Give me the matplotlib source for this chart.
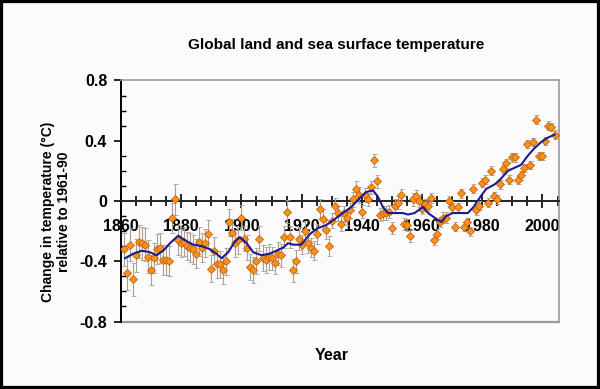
import matplotlib
matplotlib.use("Agg")
import matplotlib.pyplot as plt
from matplotlib.patches import Rectangle
from matplotlib.ticker import MultipleLocator, FixedLocator

plt.rcParams['font.family'] = ['Liberation Sans', 'DejaVu Sans']

years = list(range(1861, 2005))
anomaly = [
    -0.32, -0.48, -0.29, -0.52, -0.36, -0.27, -0.28, -0.29, -0.37,          # 1861-1869
    -0.46, -0.38, -0.32, -0.31, -0.39, -0.39, -0.40, -0.11, 0.01, -0.26,    # 1870s
    -0.28, -0.27, -0.30, -0.31, -0.32, -0.35, -0.27, -0.31, -0.28, -0.22,   # 1880s
    -0.45, -0.33, -0.42, -0.42, -0.46, -0.40, -0.14, -0.21, -0.28, -0.26,   # 1890s
    -0.11, -0.25, -0.31, -0.44, -0.46, -0.40, -0.25, -0.38, -0.39, -0.37,   # 1900s
    -0.38, -0.41, -0.35, -0.36, -0.24, -0.07, -0.24, -0.46, -0.40, -0.25,   # 1910s
    -0.29, -0.20, -0.28, -0.31, -0.33, -0.22, -0.05, -0.12, -0.19, -0.30,   # 1920s
    -0.13, -0.03, -0.08, -0.15, -0.08, -0.11, -0.06, 0.01, 0.08, 0.04,      # 1930s
    -0.07, 0.04, 0.01, 0.09, 0.27, 0.13, -0.09, -0.08, -0.08, -0.07,        # 1940s
    -0.18, -0.03, -0.01, 0.04, -0.15, -0.16, -0.23, 0.01, 0.03, 0.00,       # 1950s
    -0.05, -0.02, -0.03, 0.02, -0.26, -0.22, -0.14, -0.11, -0.11, 0.00,     # 1960s
    -0.04, -0.17, -0.04, 0.05, -0.17, -0.14, -0.20, 0.08, -0.06, -0.03,     # 1970s
    0.12, 0.14, -0.01, 0.20, 0.03, 0.01, 0.11, 0.21, 0.25, 0.14,            # 1980s
    0.29, 0.29, 0.14, 0.17, 0.22, 0.38, 0.24, 0.39, 0.54, 0.30,             # 1990s
    0.30, 0.40, 0.50, 0.49, 0.44,                                           # 2000-2004
]
uncertainty = [
    0.11, 0.11, 0.11, 0.11, 0.11, 0.11, 0.11, 0.11, 0.11,
    0.10, 0.10, 0.10, 0.10, 0.10, 0.10, 0.10, 0.10, 0.10, 0.10,
    0.095, 0.095, 0.095, 0.095, 0.095, 0.095, 0.095, 0.095, 0.095, 0.095,
    0.09, 0.09, 0.09, 0.09, 0.09, 0.09, 0.09, 0.09, 0.09, 0.09,
    0.085, 0.085, 0.085, 0.085, 0.085, 0.085, 0.085, 0.085, 0.085, 0.085,
    0.075, 0.075, 0.075, 0.075, 0.075, 0.075, 0.075, 0.075, 0.075, 0.075,
    0.065, 0.065, 0.065, 0.065, 0.065, 0.065, 0.065, 0.065, 0.065, 0.065,
    0.05, 0.05, 0.05, 0.05, 0.05, 0.05, 0.05, 0.05, 0.05, 0.05,
    0.045, 0.045, 0.045, 0.045, 0.045, 0.045, 0.045, 0.045, 0.045, 0.045,
    0.04, 0.04, 0.04, 0.04, 0.04, 0.04, 0.04, 0.04, 0.04, 0.04,
    0.035, 0.035, 0.035, 0.035, 0.035, 0.035, 0.035, 0.035, 0.035, 0.035,
    0.03, 0.03, 0.03, 0.03, 0.03, 0.03, 0.03, 0.03, 0.03, 0.03,
    0.03, 0.03, 0.03, 0.03, 0.03, 0.03, 0.03, 0.03, 0.03, 0.03,
    0.028, 0.028, 0.028, 0.028, 0.028, 0.028, 0.028, 0.028, 0.028, 0.028,
    0.028, 0.028, 0.028, 0.028, 0.028,
]

smooth_years = [
    1861.3, 1864.0, 1866.9, 1869.6, 1871.8, 1874.0, 1876.3, 1879.0, 1881.2, 1884.0,
    1886.8, 1889.5, 1891.7, 1893.4, 1895.6, 1897.8, 1899.5, 1901.7, 1903.9, 1906.7,
    1909.4, 1911.6, 1913.8, 1915.5, 1917.2, 1919.9, 1922.7, 1925.4, 1928.2, 1931.0,
    1933.7, 1936.5, 1939.3, 1941.5, 1943.7, 1945.3, 1947.0, 1948.7, 1950.9, 1953.6,
    1955.3, 1957.5, 1960.3, 1962.0, 1964.1, 1966.4, 1968.0, 1970.2, 1973.0, 1975.2,
    1977.1, 1979.1, 1981.3, 1984.1, 1986.3, 1988.5, 1990.7, 1992.9, 1995.1, 1997.3,
    1999.5, 2001.7, 2004.0,
]
smooth_values = [
    -0.38, -0.35, -0.33, -0.34, -0.36, -0.33, -0.28, -0.23, -0.26, -0.29,
    -0.30, -0.32, -0.35, -0.38, -0.34, -0.27, -0.24, -0.28, -0.34, -0.36,
    -0.35, -0.33, -0.31, -0.28, -0.29, -0.29, -0.22, -0.18, -0.16, -0.12,
    -0.08, -0.04, 0.02, 0.06, 0.07, 0.03, -0.04, -0.08, -0.08, -0.08,
    -0.09, -0.08, -0.04, -0.08, -0.11, -0.14, -0.10, -0.08, -0.08, -0.08,
    -0.04, 0.02, 0.08, 0.11, 0.15, 0.20, 0.22, 0.24, 0.30, 0.35,
    0.39, 0.42, 0.44,
]

x_ticks = [1860, 1880, 1900, 1920, 1940, 1960, 1980, 2000]
y_ticks = [-0.8, -0.4, 0.0, 0.4, 0.8]
y_tick_labels = ["-0.8", "-0.4", "0", "0.4", "0.8"]

assert len(years) == len(anomaly) == len(uncertainty)

fig = plt.figure(figsize=(6.0, 3.89), dpi=100)
fig.patch.set_facecolor('#fbfbfb')
fig.patches.append(Rectangle((0, 0), 1, 1, transform=fig.transFigure,
                             fill=False, edgecolor='black', linewidth=4.5))

ax = fig.add_axes([0.2017, 0.1735, 0.7300, 0.6196])
ax.set_facecolor('#fbfbfb')

ax.errorbar(years, anomaly, yerr=uncertainty, fmt='D', markersize=3.8,
            markerfacecolor='#f7921e', markeredgecolor='#c4620c', markeredgewidth=0.6,
            ecolor='#ab9f93', elinewidth=0.8, capsize=1.8, capthick=0.8, zorder=3)
ax.plot(smooth_years, smooth_values, color='#1c1c90', linewidth=1.5, zorder=4)

ax.set_xlim(1860, 2005.5)
ax.set_ylim(-0.8, 0.8)

ax.spines['bottom'].set_position(('data', 0))
ax.spines['bottom'].set_color('#222222')
ax.spines['bottom'].set_linewidth(1.4)
ax.spines['left'].set_color('black')
ax.spines['left'].set_linewidth(1.4)
ax.spines['top'].set_color('#9a9a9a')
ax.spines['right'].set_color('#9a9a9a')
ax.spines['top'].set_linewidth(1.2)
ax.spines['right'].set_linewidth(1.2)
ax.axhline(-0.8, color='#9a9a9a', linewidth=1.6, clip_on=False, zorder=1)

ax.xaxis.set_major_locator(FixedLocator(x_ticks))
ax.xaxis.set_minor_locator(MultipleLocator(5))
ax.set_xticklabels([str(t) for t in x_ticks])
ax.tick_params(axis='x', which='major', direction='inout', length=10, width=1.2,
               pad=8, labelsize=11.5, colors='black')
ax.tick_params(axis='x', which='minor', direction='inout', length=7, width=1.2)

ax.yaxis.set_major_locator(FixedLocator(y_ticks))
ax.yaxis.set_minor_locator(MultipleLocator(0.1))
ax.set_yticklabels(y_tick_labels)
ax.tick_params(axis='y', which='major', direction='out', length=5, width=1.2,
               pad=5, labelsize=11.5)
ax.tick_params(axis='y', which='minor', direction='in', length=3.5, width=1.0)

for lab in ax.get_xticklabels() + ax.get_yticklabels():
    lab.set_fontweight('bold')

fig.text(0.56, 0.885, 'Global land and sea surface temperature', ha='center', va='center',
         fontsize=11, fontweight='bold')
fig.text(0.552, 0.087, 'Year', ha='center', va='center', fontsize=11.5, fontweight='bold')
fig.text(0.093, 0.455, 'Change in temperature (\u00b0C)\nrelative to 1961-90', ha='center',
         va='center', rotation=90, fontsize=10, fontweight='bold', linespacing=1.15)

fig.savefig('out.png', dpi=100, facecolor=fig.get_facecolor())
